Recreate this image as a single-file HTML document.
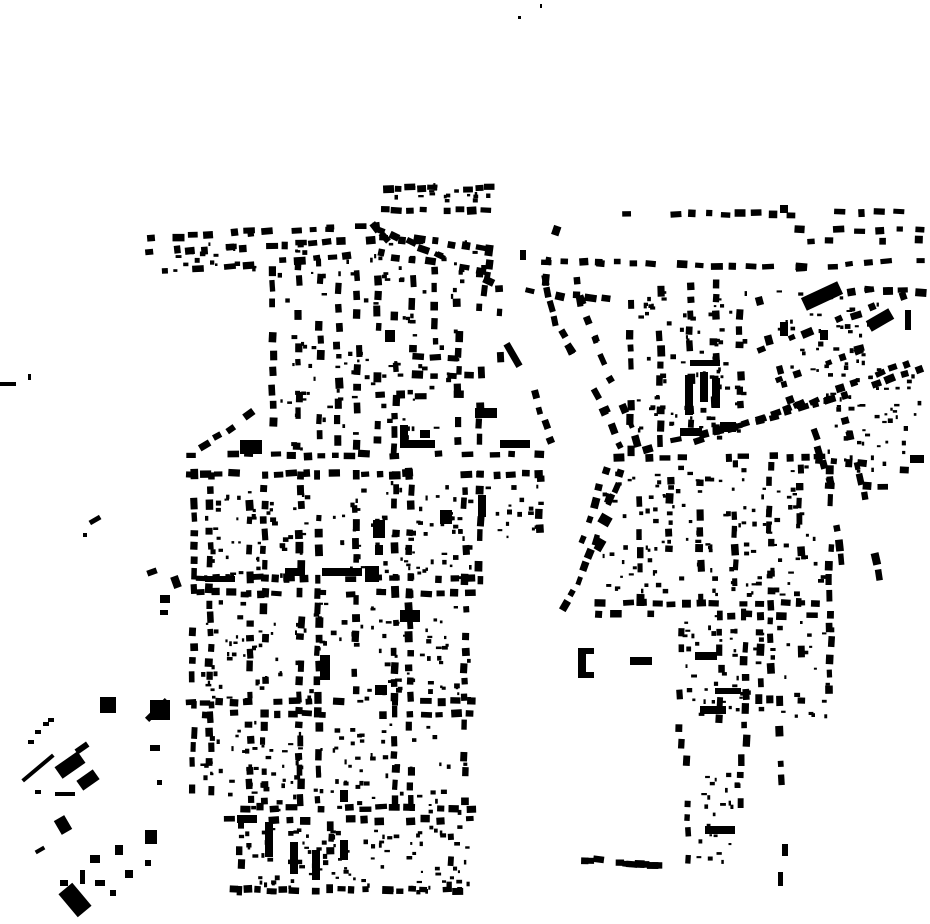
<!DOCTYPE html>
<html><head><meta charset="utf-8"><style>html,body{margin:0;padding:0;background:#fff;width:930px;height:924px;overflow:hidden}svg{display:block}</style></head>
<body>
<svg id="s" width="930" height="924" viewBox="0 0 930 924" xmlns="http://www.w3.org/2000/svg"><g id="g" fill="#000"></g></svg>
<script>
var seed=12345;function r(){seed|=0;seed=seed+0x6D2B79F5|0;var t=Math.imul(seed^seed>>>15,1|seed);t=t+Math.imul(t^t>>>7,61|t)^t;return((t^t>>>14)>>>0)/4294967296;}
var out=[];
function R(x,y,w,h,a){if(a){out.push('<rect x="'+(-w/2).toFixed(1)+'" y="'+(-h/2).toFixed(1)+'" width="'+w.toFixed(1)+'" height="'+h.toFixed(1)+'" transform="translate('+x.toFixed(1)+','+y.toFixed(1)+') rotate('+a.toFixed(1)+')"/>');}else out.push('<rect x="'+x.toFixed(1)+'" y="'+y.toFixed(1)+'" width="'+w.toFixed(1)+'" height="'+h.toFixed(1)+'"/>');}
function row(p,sp,sk){sp=(sp||13)*1.3;sk=Math.max(sk||0.2,0.3);for(var i=0;i<p.length-2;i+=2){var x1=p[i],y1=p[i+1],x2=p[i+2],y2=p[i+3];var dx=x2-x1,dy=y2-y1,L=Math.hypot(dx,dy),a=Math.atan2(dy,dx)*180/Math.PI;var n=Math.floor(L/sp);for(var k=0;k<=n;k++){if(r()<sk)continue;var t=k/Math.max(n,1);var l=6+r()*6,w=5+r()*3;R(x1+dx*t+(r()-0.5)*3,y1+dy*t+(r()-0.5)*3,l,w,a+(r()-0.5)*8);}}}
function V(x,y1,y2,sp,sk){row([x,y1,x,y2],sp||12,sk);}
function H(y,x1,x2,sp,sk){row([x1,y,x2,y],sp||12,sk);}
function sp(x,y,w,h,n){n=Math.round(n*0.3);for(var i=0;i<n;i++){var s=r();R(x+r()*w,y+r()*h,2+s*4,2+r()*3);}}
// LEFT DISTRICT
row([150,238,250,232,330,228,375,226,385,238,420,240,480,248],11,0.15);
row([150,272,230,266,300,260,380,254,430,262,480,270],11,0.15);
row([150,252,230,248,300,244,370,240],9,0.4);
H(188,388,490,8,0.1);H(210,385,485,9,0.05);
row([380,230,440,255,490,280],11,0.2);row([490,250,485,290],10,0.2);
V(273,270,440);V(298,265,445);V(320,262,450);V(338,270,440,14,0.3);V(358,275,445,14,0.3);V(378,280,440);V(395,265,450);V(412,280,350,14,0.3);V(435,270,360);V(458,285,440);V(480,275,440);V(500,290,380,14,0.3);
H(358,400,470,12,0.2);H(375,380,470,12,0.3);H(395,380,460,14,0.3);
row([250,415,230,430,205,445],10,0.2);row([535,395,550,440],10,0.2);
H(455,190,540,11,0.1);H(474,190,540,11,0.1);
H(578,200,470,11,0.1);H(593,200,470,11,0.1);
H(702,190,470,11,0.1);H(714,190,470,11,0.15);
H(808,230,470,11,0.1);H(820,230,470,11,0.15);
V(193,475,790,11,0.15);V(210,475,790,11,0.15);V(250,475,800,11,0.1);V(264,475,800,11,0.1);V(300,475,800,11,0.1);V(318,475,800,11,0.1);V(395,475,800,11,0.1);V(410,475,800,11,0.1);V(465,475,800,11,0.1);V(480,475,580,11,0.1);V(540,460,530,11,0.2);V(355,475,560,12,0.3);V(355,600,690,12,0.3);
V(240,825,890,9,0.2);V(330,825,890,9,0.2);V(450,825,885,9,0.2);H(890,235,470,9,0.3);
sp(150,240,340,35,120);sp(280,270,180,180,260);sp(200,480,270,100,380);sp(200,600,270,100,380);sp(200,720,270,90,330);sp(235,825,235,65,320);sp(390,180,100,25,60);sp(480,470,60,70,60);
// big left
R(385,330,10,12);R(400,425,8,22);R(400,440,35,8);R(420,430,10,8);R(475,408,22,10);R(500,440,30,8);R(513,355,7,26,-30);R(365,566,14,16);R(322,568,40,8);R(400,610,20,12);R(320,655,10,25);R(375,685,12,10);R(237,815,20,8);R(265,822,8,35);R(290,842,8,32);R(312,850,8,30);R(285,568,20,8);R(205,576,30,6);R(240,440,22,14);R(373,520,12,18);R(375,545,8,10);R(440,510,12,14);R(478,495,8,22);R(340,840,8,20);R(340,790,8,12);
// far left
R(0,382,16,4);R(28,374,3,6);R(95,520,12,5,-30);R(83,533,4,4);R(152,572,10,6,-20);R(160,595,10,8);R(176,582,8,12,-20);R(160,610,8,5);R(100,697,16,16);R(150,700,20,20);R(157,710,6,28,45);R(150,745,10,6);R(157,780,5,5);R(28,740,6,4);R(35,730,6,4);R(43,722,6,4);R(48,718,6,4);
R(35,790,6,4);R(38,768,40,4,-40);R(70,765,14,28,55);R(88,780,12,20,55);R(63,825,12,16,-30);R(55,792,20,4);R(82,748,14,6,-35);R(40,850,10,4,-30);R(90,855,10,8);R(80,870,5,14);R(95,880,10,6);R(75,900,18,30,-40);R(60,880,8,6);R(115,845,8,10);R(145,830,12,14);R(125,870,8,8);R(145,860,6,6);R(110,890,6,6);
// RIGHT DISTRICT
H(214,610,790,12,0.05);H(212,840,920,13,0.05);
row([530,262,600,262,700,266,800,268,850,264,920,260],11,0.1);
row([560,215,550,245,545,280,555,320,570,350,590,380,605,410,620,445],10,0.1);
row([575,225,575,260,580,300,595,340,610,380,625,410,635,440],11,0.2);
row([530,290,560,295,620,300],11,0.2);
H(230,800,920,14,0.2);H(240,810,920,14,0.2);
V(630,290,450,11,0.1);V(660,290,440,11,0.1);V(690,285,440,11,0.1);V(715,285,430,11,0.1);V(740,285,420,11,0.1);
row([760,300,770,340,790,400],11,0.2);
row([620,455,760,420,830,400,920,370],11,0.1);row([700,440,800,405,920,358],10,0.1);
row([760,350,840,320,920,290],11,0.1);row([780,380,860,350,920,330],11,0.2);
row([810,300,870,290,920,292],12,0.2);
row([810,420,830,480,840,560],11,0.2);row([845,420,860,480,880,575],11,0.2);
row([820,460,920,470],11,0.2);row([830,485,920,490],12,0.3);
H(457,620,820,11,0.1);H(603,600,830,11,0.1);H(615,600,830,12,0.2);
row([625,460,610,500,595,540,580,580,565,605],10,0.1);row([605,470,590,520,575,560],12,0.3);
V(640,470,600);V(670,465,600);V(700,465,600);V(735,465,600);V(770,465,700);V(800,470,700);V(830,470,690);
V(680,615,760);V(720,615,720);V(745,615,740);V(780,700,780);V(760,615,700);
V(688,760,860,10,0.2);V(740,760,860,10,0.2);row([585,860,665,865],5,0.1);
sp(635,290,110,150,260);sp(640,465,190,130,360);sp(680,615,150,100,200);sp(820,360,100,110,180);sp(600,465,40,130,60);sp(690,770,50,90,80);sp(770,290,110,80,120);
// big right
R(578,648,8,30);R(578,648,16,6);R(578,672,16,6);R(630,657,22,8);R(695,652,22,8);R(715,688,26,6);R(700,706,26,8);R(705,826,30,8);R(782,844,6,12);R(778,872,5,14);R(822,296,40,14,-25);R(880,320,26,12,-30);R(905,310,6,20);R(685,375,8,40);R(700,372,8,30);R(712,378,8,30);R(680,428,22,8);R(720,422,16,10);R(690,360,30,6);R(910,455,14,8);R(605,520,10,12,-60);R(600,545,12,8,-60);R(780,322,8,14);R(820,330,8,10);R(540,4,2,4);R(518,16,3,3);R(520,250,6,10);R(780,205,8,8);
document.getElementById('g').innerHTML=out.join('');
</script>
</body></html>
